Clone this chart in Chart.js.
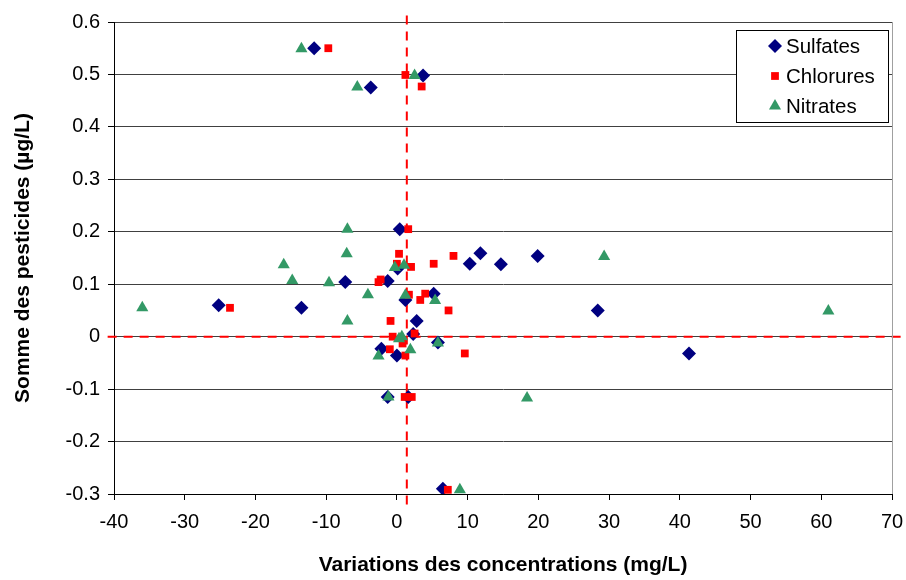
<!DOCTYPE html>
<html>
<head>
<meta charset="utf-8">
<script src="https://cdn.jsdelivr.net/npm/chart.js"></script>
<style>
  html, body { margin: 0; padding: 0; background: #fff; }
</style>
</head>
<body>
<canvas id="chart" width="906" height="580"></canvas>
<script>
// values
const sulfatesX = [-11.7, -3.7, 3.7, -25.2, -13.5, -7.3, -1.3, 0.4, 0.1, 1.2, 2.8, 5.2, 2.3, -2.2, 0.0, 5.8, -1.3, 1.6, 6.5, 10.3, 11.8, 14.7, 19.9, 28.4, 41.3];
const sulfatesY = [0.55, 0.475, 0.498, 0.06, 0.055, 0.104, 0.106, 0.205, 0.13, 0.07, 0.03, 0.082, 0.005, -0.023, -0.036, -0.011, -0.115, -0.115, -0.29, 0.139, 0.159, 0.138, 0.154, 0.05, -0.032];

const chloruresX = [-9.7, 1.2, 3.5, -23.6, 1.6, 0.3, 0.0, 2.0, 5.2, 8.0, -2.6, -2.3, 1.7, 4.0, 3.3, 7.3, -0.9, -0.6, 2.5, 0.8, -1.0, 1.2, 9.6, 1.1, 2.1, 7.2];
const chloruresY = [0.55, 0.499, 0.477, 0.055, 0.205, 0.158, 0.139, 0.133, 0.139, 0.154, 0.104, 0.109, 0.08, 0.082, 0.07, 0.05, 0.03, 0.0, 0.006, -0.013, -0.024, -0.036, -0.032, -0.115, -0.115, -0.292];

const nitratesX = [-13.5, -5.6, 2.5, -36.0, -16.0, -14.8, -9.6, -7.1, -7.0, -7.0, -4.1, -0.3, 1.0, 1.2, 5.4, 0.7, 0.3, -2.6, 1.9, 5.8, -1.2, 18.4, 8.9, 29.3, 61.0];
const nitratesY = [0.549, 0.476, 0.498, 0.055, 0.137, 0.107, 0.103, 0.158, 0.205, 0.03, 0.08, 0.132, 0.136, 0.079, 0.069, 0.0, -0.004, -0.037, -0.025, -0.012, -0.115, -0.117, -0.292, 0.153, 0.049];

// red dashed reference lines
const vLineX = [1.4, 1.4];
const vLineY = [-0.32, 0.618];
const hLineX = [-40.9, 71.4];
const hLineY = [0, 0];

const xTicks = [-40, -30, -20, -10, 0, 10, 20, 30, 40, 50, 60, 70];
const yTicks = [-0.3, -0.2, -0.1, 0, 0.1, 0.2, 0.3, 0.4, 0.5, 0.6];

function pts(xs, ys) {
    return xs.map((x, i) => ({ x: x, y: ys[i] }));
}

const FONT = "'Liberation Sans', Arial, sans-serif";

function drawMarker(ctx, style, x, y, r, color) {
    ctx.save();
    ctx.fillStyle = color;
    ctx.beginPath();
    if (style === "rectRot") {
        ctx.moveTo(x - r, y); ctx.lineTo(x, y - r); ctx.lineTo(x + r, y); ctx.lineTo(x, y + r);
    } else if (style === "rect") {
        let s = r * Math.SQRT1_2;
        ctx.rect(x - s, y - s, 2 * s, 2 * s);
    } else {
        ctx.moveTo(x, y - r);
        ctx.lineTo(x + r * Math.sin(2 * Math.PI / 3), y - r * Math.cos(2 * Math.PI / 3));
        ctx.lineTo(x + r * Math.sin(4 * Math.PI / 3), y - r * Math.cos(4 * Math.PI / 3));
    }
    ctx.closePath();
    ctx.fill();
    ctx.restore();
}

const boxLegend = {
    id: "boxLegend",
    afterDraw(chart) {
        const ctx = chart.ctx;
        const area = chart.chartArea;
        // plot area right border
        ctx.save();
        ctx.strokeStyle = "#a0a0a0";
        ctx.lineWidth = 1;
        ctx.beginPath();
        ctx.moveTo(area.right + 0.5, area.top);
        ctx.lineTo(area.right + 0.5, area.bottom);
        ctx.stroke();

        const items = chart.data.datasets.filter(d => d.inLegend);
        const bx = 736, by = 30, bw = 152, bh = 92;
        ctx.fillStyle = "#fff";
        ctx.fillRect(bx, by, bw, bh);
        ctx.strokeStyle = "#000";
        ctx.strokeRect(bx + 0.5, by + 0.5, bw, bh);
        ctx.font = "20.5px " + FONT;
        ctx.textBaseline = "middle";
        items.forEach((d, i) => {
            let y = by + 16 + i * 30;
            drawMarker(ctx, d.pointStyle, 775, y, d.pointRadius, d.backgroundColor);
            ctx.fillStyle = "#000";
            ctx.fillText(d.label, 786, y + 1);
        });
        ctx.restore();
    }
};

new Chart(document.getElementById("chart"), {
    type: "scatter",
    data: {
        datasets: [
            {
                label: "Sulfates", inLegend: true, order: 3,
                data: pts(sulfatesX, sulfatesY),
                pointStyle: "rectRot", pointRadius: 7,
                backgroundColor: "#000080", borderColor: "#000080", borderWidth: 0
            },
            {
                label: "Chlorures", inLegend: true, order: 2,
                data: pts(chloruresX, chloruresY),
                pointStyle: "rect", pointRadius: 5.5,
                backgroundColor: "#ff0000", borderColor: "#ff0000", borderWidth: 0
            },
            {
                label: "Nitrates", inLegend: true, order: 1,
                data: pts(nitratesX, nitratesY),
                pointStyle: "triangle", pointRadius: 7,
                backgroundColor: "#339966", borderColor: "#339966", borderWidth: 0
            },
            {
                label: "v", order: 4, type: "line", clip: false,
                data: pts(vLineX, vLineY),
                borderColor: "#ff0000", borderWidth: 2, borderDash: [9, 7],
                pointRadius: 0, showLine: true, fill: false
            },
            {
                label: "h", order: 4, type: "line", clip: false,
                data: pts(hLineX, hLineY),
                borderColor: "#ff0000", borderWidth: 2, borderDash: [9, 7],
                pointRadius: 0, showLine: true, fill: false
            }
        ]
    },
    options: {
        responsive: false,
        animation: false,
        layout: { padding: { left: 0, right: 14, top: 22, bottom: 0 } },
        plugins: { legend: { display: false }, tooltip: { enabled: false } },
        scales: {
            x: {
                type: "linear", min: -40, max: 70,
                afterBuildTicks: s => { s.ticks = xTicks.map(v => ({ value: v })); },
                afterFit: s => { s.height = 86; s.paddingLeft = 0; s.paddingRight = 0; },
                grid: { drawOnChartArea: false, drawTicks: true, tickLength: 6, tickColor: "#000" },
                border: { color: "#000", width: 1 },
                ticks: { color: "#000", font: { family: FONT, size: 20 }, padding: 10, maxRotation: 0,
                         callback: v => String(v) },
                title: { display: true, text: "Variations des concentrations (mg/L)", color: "#000",
                         font: { family: FONT, size: 21, weight: "bold" }, padding: 2 }
            },
            y: {
                type: "linear", min: -0.3, max: 0.6,
                afterBuildTicks: s => { s.ticks = yTicks.map(v => ({ value: v })); },
                afterFit: s => { s.width = 114; s.paddingTop = 0; s.paddingBottom = 0; },
                grid: { color: "#404040", lineWidth: 1, drawTicks: true, tickLength: 6, tickColor: "#000" },
                border: { color: "#000", width: 1 },
                ticks: { color: "#000", font: { family: FONT, size: 20 }, padding: 8,
                         callback: v => String(Math.round(v * 10) / 10) },
                title: { display: true, text: "Somme des pesticides (µg/L)", color: "#000",
                         font: { family: FONT, size: 21, weight: "bold" }, padding: 11 }
            }
        }
    },
    plugins: [boxLegend]
});
</script>
</body>
</html>
